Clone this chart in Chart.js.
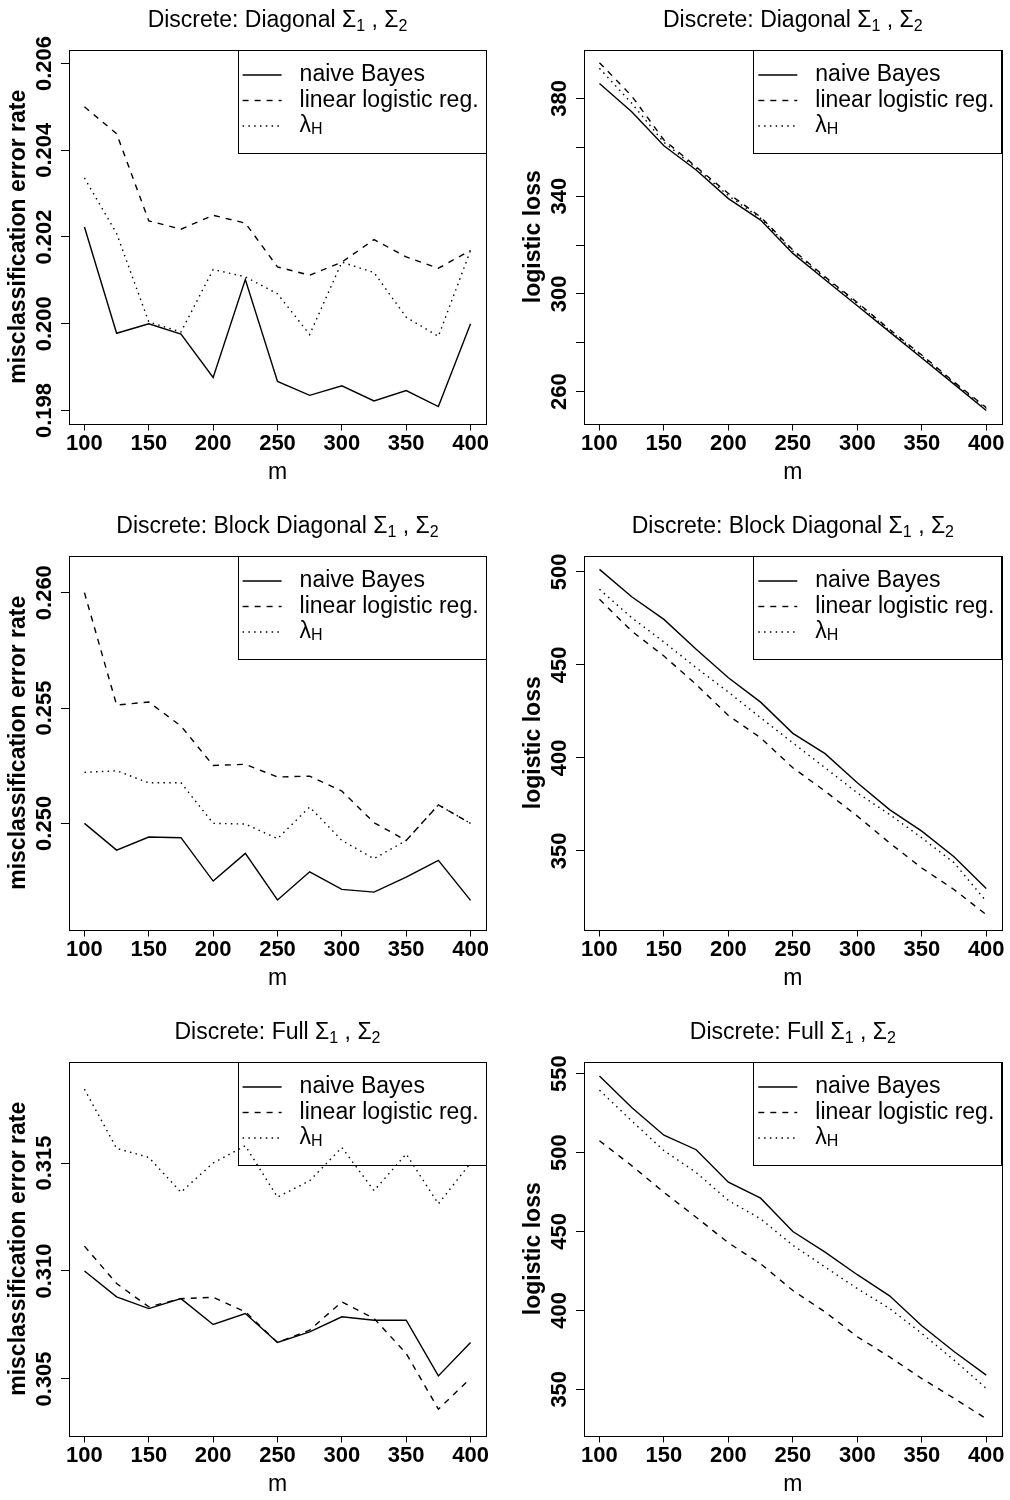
<!DOCTYPE html>
<html>
<head>
<meta charset="utf-8">
<script src="https://cdn.jsdelivr.net/npm/chart.js@4.4.1/dist/chart.umd.min.js"></script>
<style>
    html, body { margin: 0; padding: 0; background: #fff; overflow: hidden; }
    #wrap { position: relative; width: 1010px; height: 1500px; overflow: hidden; }
    .panel { position: absolute; width: 505px; height: 506px; }
</style>
</head>
<body>
<div id="wrap">
    <div class="panel" style="left:0;top:0"><canvas id="c1" width="505" height="506"></canvas></div>
    <div class="panel" style="left:505px;top:0"><canvas id="c2" width="505" height="506"></canvas></div>
    <div class="panel" style="left:0;top:506px"><canvas id="c3" width="505" height="506"></canvas></div>
    <div class="panel" style="left:505px;top:506px"><canvas id="c4" width="505" height="506"></canvas></div>
    <div class="panel" style="left:0;top:1012px"><canvas id="c5" width="505" height="506"></canvas></div>
    <div class="panel" style="left:505px;top:1012px"><canvas id="c6" width="505" height="506"></canvas></div>
</div>
<script>
// training set size m
var mValues = [100, 125, 150, 175, 200, 225, 250, 275, 300, 325, 350, 375, 400];
var mTicks = [100, 150, 200, 250, 300, 350, 400];
var seriesNames = ['naive Bayes', 'linear logistic reg.', 'λ_H'];

// Diagonal
var diagErrNB = [0.20223, 0.19978, 0.2000, 0.19976, 0.19876, 0.20102, 0.19867, 0.19835, 0.19857, 0.19822, 0.19846, 0.19809, 0.2000];
var diagErrLR = [0.2050, 0.20438, 0.20237, 0.20218, 0.2025, 0.20232, 0.20131, 0.20112, 0.20142, 0.20194, 0.20154, 0.20128, 0.20169];
var diagErrLH = [0.20336, 0.20208, 0.20004, 0.19981, 0.20125, 0.20108, 0.20069, 0.19975, 0.20142, 0.20118, 0.20015, 0.19971, 0.20169];
var diagLossNB = [386.1, 374.5, 360.6, 350.7, 339.0, 330.2, 316.6, 305.8, 295.2, 284.5, 273.8, 263.1, 252.3];
var diagLossLR = [394.6, 381.0, 363.0, 352.0, 341.1, 331.5, 318.0, 307.0, 296.5, 285.5, 275.0, 264.0, 253.5];
var diagLossLH = [392.3, 378.0, 362.0, 351.5, 340.2, 331.0, 317.5, 306.5, 296.0, 285.0, 274.5, 263.6, 253.0];

// Block diagonal
var blockErrNB = [0.2500, 0.24884, 0.24941, 0.24938, 0.2475, 0.2487, 0.24668, 0.2479, 0.24714, 0.24702, 0.24767, 0.2484, 0.24666];
var blockErrLR = [0.2600, 0.25513, 0.25526, 0.25422, 0.25251, 0.25256, 0.25201, 0.25205, 0.2514, 0.25003, 0.24926, 0.2508, 0.2500];
var blockErrLH = [0.25221, 0.25228, 0.25176, 0.25176, 0.2500, 0.24997, 0.24934, 0.25071, 0.24926, 0.24847, 0.24926, 0.2508, 0.2500];
var blockLossNB = [501.4, 486.7, 474.5, 458.4, 443.1, 430.0, 413.2, 402.3, 386.6, 372.2, 360.6, 346.8, 329.7];
var blockLossLR = [485.3, 468.2, 454.8, 439.5, 422.8, 410.8, 394.7, 382.1, 368.7, 354.3, 340.8, 329.2, 315.7];
var blockLossLH = [490.7, 475.4, 462.3, 448.5, 435.4, 421.6, 408.1, 394.7, 381.2, 369.6, 357.0, 343.6, 322.9];

// Full
var fullErrNB = [0.3100, 0.3088, 0.30826, 0.30872, 0.30752, 0.30803, 0.30669, 0.30718, 0.30788, 0.30772, 0.30772, 0.30514, 0.30669];
var fullErrLR = [0.31115, 0.30942, 0.30834, 0.30872, 0.30878, 0.30811, 0.30669, 0.30726, 0.30857, 0.3078, 0.30618, 0.3036, 0.30503];
var fullErrLH = [0.31842, 0.31568, 0.31526, 0.31365, 0.3150, 0.3158, 0.31342, 0.31418, 0.31572, 0.31372, 0.31542, 0.31311, 0.3150];
var fullLossNB = [548.5, 528.5, 511.0, 501.8, 481.2, 471.1, 450.0, 436.9, 422.6, 409.2, 390.2, 373.9, 359.0];
var fullLossLR = [507.5, 491.7, 474.8, 459.0, 442.8, 429.5, 412.6, 399.0, 383.3, 370.5, 356.8, 344.3, 331.3];
var fullLossLH = [539.5, 520.1, 501.2, 487.4, 469.6, 458.0, 441.2, 427.5, 413.8, 401.2, 385.4, 368.5, 350.6];

// y tick values and their labels ('' = tick mark only)
var diagErrTicks = [0.198, 0.200, 0.202, 0.204, 0.206];
var diagErrLabels = ['0.198', '0.200', '0.202', '0.204', '0.206'];
var diagLossTicks = [260, 280, 300, 320, 340, 360, 380];
var diagLossLabels = ['260', '', '300', '', '340', '', '380'];
var blockErrTicks = [0.250, 0.255, 0.260];
var blockErrLabels = ['0.250', '0.255', '0.260'];
var blockLossTicks = [350, 400, 450, 500];
var blockLossLabels = ['350', '400', '450', '500'];
var fullErrTicks = [0.305, 0.310, 0.315];
var fullErrLabels = ['0.305', '0.310', '0.315'];
var fullLossTicks = [350, 400, 450, 500, 550];
var fullLossLabels = ['350', '400', '450', '500', '550'];

var FONT = '"Liberation Sans", Arial, Helvetica, sans-serif';

// splits "_x" into subscript parts
function richParts(str) {
    var parts = [];
    var bits = str.split(/_(\w)/);
    for (var i = 0; i < bits.length; i++) {
        if (bits[i] === '') continue;
        parts.push({ t: bits[i], sub: i % 2 === 1 });
    }
    return parts;
}

function drawRich(ctx, str, x, y, size, align) {
    var parts = richParts(str);
    var subSize = Math.round(size * 0.7);
    var w = 0;
    parts.forEach(function (p) {
        ctx.font = (p.sub ? subSize : size) + 'px ' + FONT;
        p.w = ctx.measureText(p.t).width;
        w += p.w;
    });
    var cx = align === 'center' ? x - w / 2 : x;
    ctx.textAlign = 'left';
    parts.forEach(function (p) {
        ctx.font = (p.sub ? subSize : size) + 'px ' + FONT;
        ctx.fillText(p.t, cx, p.sub ? y + 4 : y);
        cx += p.w;
    });
}

// R style frame, rotated y tick labels, title and legend
var rStyle = {
    id: 'rStyle',
    afterDraw: function (chart) {
        var ctx = chart.ctx;
        var a = chart.chartArea;
        var o = chart.options.plugins.rStyle;
        ctx.save();
        ctx.strokeStyle = '#000';
        ctx.lineWidth = 1;
        ctx.strokeRect(Math.round(a.left) + 0.5, Math.round(a.top) + 0.5,
            Math.round(a.right - a.left), Math.round(a.bottom - a.top));

        // y tick labels, parallel to the axis
        var ys = chart.scales.y;
        ctx.fillStyle = '#000';
        ctx.font = 'bold 22px ' + FONT;
        ctx.textAlign = 'center';
        ctx.textBaseline = 'middle';
        o.yTicks.forEach(function (v, i) {
            if (!o.yLabels[i]) return;
            ctx.save();
            ctx.translate(a.left - 24, ys.getPixelForValue(v));
            ctx.rotate(-Math.PI / 2);
            ctx.fillText(o.yLabels[i], 0, 0);
            ctx.restore();
        });

        // main title
        ctx.textBaseline = 'alphabetic';
        drawRich(ctx, o.title, (a.left + a.right) / 2, 27, 23, 'center');

        // legend, top right, no background
        var lw = 248.4, lh = 102.5;
        var lx = a.right - lw, ly = a.top;
        ctx.strokeRect(Math.round(lx) + 0.5, Math.round(ly) + 0.5, Math.round(lw), Math.round(lh));
        chart.data.datasets.forEach(function (ds, i) {
            var yy = ly + 25 + i * 25.5;
            ctx.save();
            ctx.beginPath();
            ctx.setLineDash(ds.borderDash || []);
            ctx.lineWidth = ds.borderWidth;
            ctx.moveTo(lx + 5, yy);
            ctx.lineTo(lx + 44, yy);
            ctx.stroke();
            ctx.restore();
            ctx.textBaseline = 'middle';
            drawRich(ctx, ds.label, lx + 62, yy, 23, 'left');
        });
        ctx.restore();
    }
};

function makePanel(id, col, title, yTitle, nb, lr, lh, yMin, yMax, yTicks, yLabels) {
    var ctx = document.getElementById(id);
    return new Chart(ctx, {
        type: 'line',
        data: {
            datasets: [
                { label: seriesNames[0], data: mValues.map(function (m, i) { return { x: m, y: nb[i] }; }),
                  borderColor: '#000', borderWidth: 1.4, borderDash: [], pointRadius: 0, fill: false },
                { label: seriesNames[1], data: mValues.map(function (m, i) { return { x: m, y: lr[i] }; }),
                  borderColor: '#000', borderWidth: 1.4, borderDash: [6, 6], pointRadius: 0, fill: false },
                { label: seriesNames[2], data: mValues.map(function (m, i) { return { x: m, y: lh[i] }; }),
                  borderColor: '#000', borderWidth: 1.4, borderDash: [1.5, 4.3], pointRadius: 0, fill: false }
            ]
        },
        options: {
            responsive: false,
            animation: false,
            layout: { padding: { left: col === 0 ? 0 : 10, right: col === 0 ? 19 : 8.3, top: 50, bottom: 0 } },
            scales: {
                x: {
                    type: 'linear', min: 88, max: 412,
                    afterBuildTicks: function (s) { s.ticks = mTicks.map(function (v) { return { value: v }; }); },
                    afterFit: function (s) { s.height = 82.5; },
                    border: { display: false },
                    grid: { drawOnChartArea: false, drawTicks: true, tickLength: 7, color: '#000', lineWidth: 1 },
                    ticks: { color: '#000', font: { family: FONT, size: 22, weight: 'bold' }, padding: 0,
                             maxRotation: 0, autoSkip: false, callback: function (v) { return String(v); } },
                    title: { display: true, text: 'm', color: '#000', font: { family: FONT, size: 23 },
                             padding: { top: 0, bottom: 20 } }
                },
                y: {
                    min: yMin, max: yMax,
                    afterBuildTicks: function (s) { s.ticks = yTicks.map(function (v) { return { value: v }; }); },
                    afterFit: function (s) { s.width = 69; },
                    border: { display: false },
                    grid: { drawOnChartArea: false, drawTicks: true, tickLength: 8, color: '#000', lineWidth: 1 },
                    ticks: { display: false },
                    title: { display: true, text: yTitle, color: '#000', font: { family: FONT, size: 23, weight: 'bold' },
                             padding: { top: 5, bottom: 0 } }
                }
            },
            plugins: {
                legend: { display: false },
                tooltip: { enabled: false },
                rStyle: { title: title, yTicks: yTicks, yLabels: yLabels }
            }
        },
        plugins: [rStyle]
    });
}

makePanel('c1', 0, 'Discrete: Diagonal Σ_1 , Σ_2', 'misclassification error rate',
    diagErrNB, diagErrLR, diagErrLH, 0.1977, 0.20631, diagErrTicks, diagErrLabels);
makePanel('c2', 1, 'Discrete: Diagonal Σ_1 , Σ_2', 'logistic loss',
    diagLossNB, diagLossLR, diagLossLH, 247, 399.8, diagLossTicks, diagLossLabels);
makePanel('c3', 0, 'Discrete: Block Diagonal Σ_1 , Σ_2', 'misclassification error rate',
    blockErrNB, blockErrLR, blockErrLH, 0.2454, 0.26159, blockErrTicks, blockErrLabels);
makePanel('c4', 1, 'Discrete: Block Diagonal Σ_1 , Σ_2', 'logistic loss',
    blockLossNB, blockLossLR, blockLossLH, 307.7, 508.6, blockLossTicks, blockLossLabels);
makePanel('c5', 0, 'Discrete: Full Σ_1 , Σ_2', 'misclassification error rate',
    fullErrNB, fullErrLR, fullErrLH, 0.30238, 0.31968, fullErrTicks, fullErrLabels);
makePanel('c6', 1, 'Discrete: Full Σ_1 , Σ_2', 'logistic loss',
    fullLossNB, fullLossLR, fullLossLH, 320.7, 557.4, fullLossTicks, fullLossLabels);
</script>
</body>
</html>
